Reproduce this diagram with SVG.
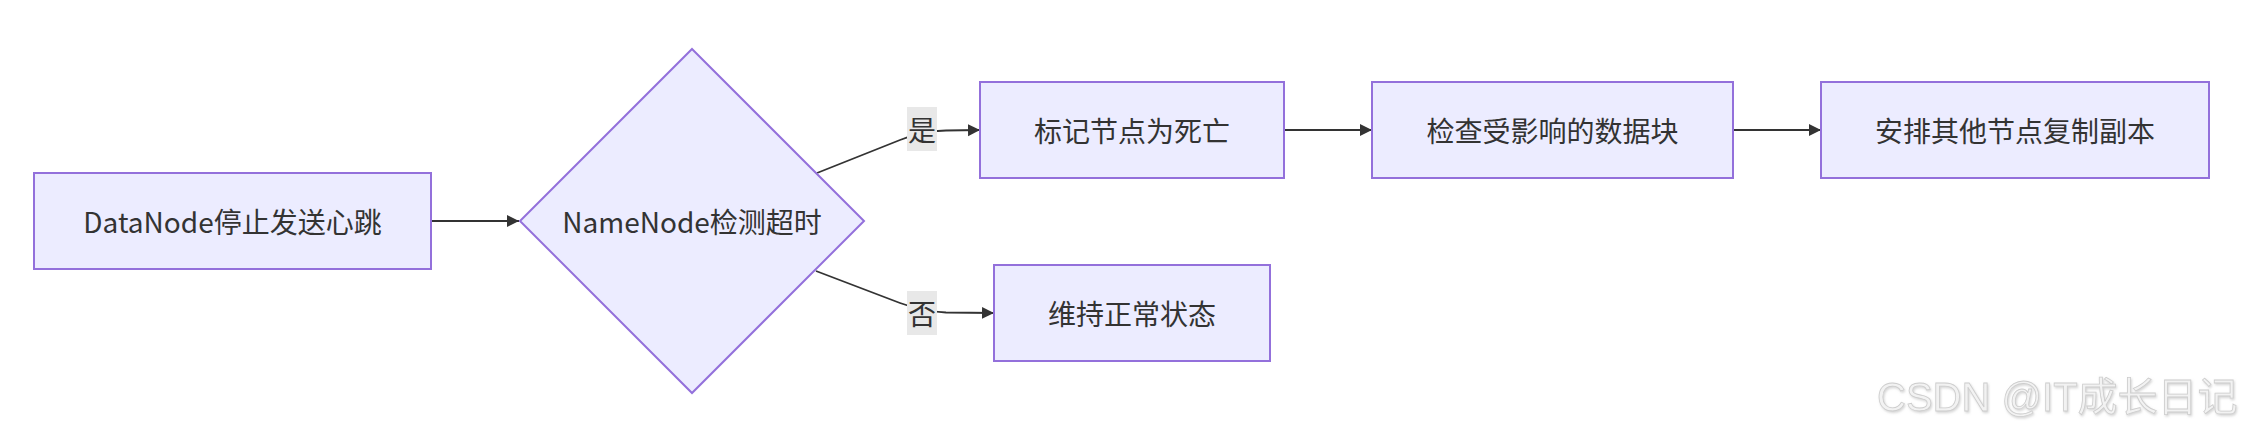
<svg xmlns="http://www.w3.org/2000/svg" width="2246" height="432" viewBox="0 0 2246 432">
<style>
  .node rect, .node polygon { fill: #ECECFF; stroke: #9370DB; stroke-width: 2; }
  .node text { font-family: "Noto Sans CJK SC", "Noto Sans", sans-serif; font-size: 28px; fill: #333; text-anchor: middle; dominant-baseline: central; }
  .edge { fill: none; stroke: #333; stroke-width: 1.8; marker-end: url(#arrow); }
  .elabel rect { fill: #e8e8e8; }
  .elabel text { font-family: "Noto Sans CJK SC", "Noto Sans", sans-serif; font-size: 28px; fill: #333; text-anchor: middle; dominant-baseline: central; }
  .wm { font-family: "Liberation Sans", "Noto Sans CJK SC", sans-serif; font-size: 40px; fill: #f2f2f2; stroke: #cdcdcd; stroke-width: 0.8; }
</style>
<defs>
  <marker id="arrow" viewBox="0 0 10 10" refX="10" refY="5" markerUnits="userSpaceOnUse" markerWidth="12" markerHeight="13" orient="auto">
    <path d="M0,0 L10,5 L0,10 z" fill="#333"/>
  </marker>
  <filter id="emboss" x="-5%" y="-20%" width="110%" height="140%">
    <feDropShadow dx="1" dy="1.5" stdDeviation="0.8" flood-color="#aaa" flood-opacity="0.5"/>
  </filter>
</defs>
<rect width="2246" height="432" fill="#fff"/>

<g id="connectors">
  <path class="edge" d="M431,221 L519,221"/>
  <path class="edge" d="M817,173 L900,140 C912,135 926,131 946,130.5 L980,130"/>
  <path class="edge" d="M816,271 L900,303 C911,307 926,311.5 946,312.5 L994,313"/>
  <path class="edge" d="M1284,130 L1372,130"/>
  <path class="edge" d="M1733,130 L1821,130"/>
</g>

<g id="label-yes" class="elabel">
  <rect x="907" y="107" width="30" height="44"/>
  <text x="922" y="129">是</text>
</g>
<g id="label-no" class="elabel">
  <rect x="907" y="291" width="30" height="44"/>
  <text x="922" y="313">否</text>
</g>

<g id="node-A" class="node">
  <rect x="34" y="173" width="397" height="96"/>
  <text x="232.5" y="221">DataNode停止发送心跳</text>
</g>
<g id="node-B" class="node">
  <polygon points="692,49 864,221 692,393 520,221"/>
  <text x="692" y="221">NameNode检测超时</text>
</g>
<g id="node-C" class="node">
  <rect x="980" y="82" width="304" height="96"/>
  <text x="1132" y="130">标记节点为死亡</text>
</g>
<g id="node-D" class="node">
  <rect x="1372" y="82" width="361" height="96"/>
  <text x="1552.5" y="130">检查受影响的数据块</text>
</g>
<g id="node-E" class="node">
  <rect x="1821" y="82" width="388" height="96"/>
  <text x="2015" y="130">安排其他节点复制副本</text>
</g>
<g id="node-F" class="node">
  <rect x="994" y="265" width="276" height="96"/>
  <text x="1132" y="313">维持正常状态</text>
</g>

<text class="wm" x="1877" y="411" filter="url(#emboss)">CSDN @IT成长日记</text>
</svg>
